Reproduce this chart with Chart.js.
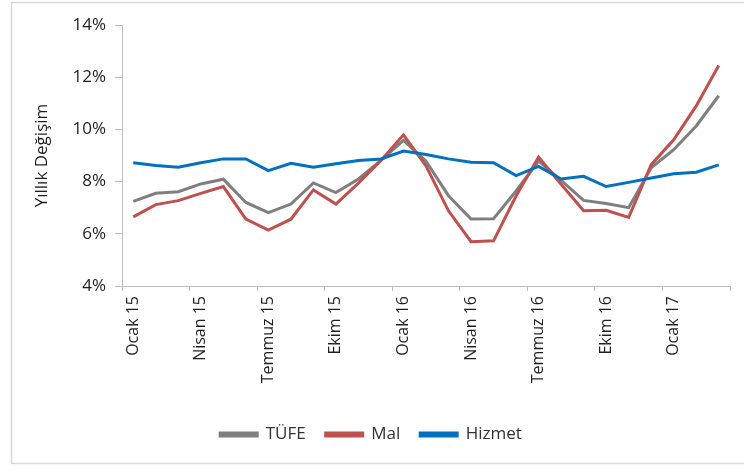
<!DOCTYPE html>
<html>
<head>
<meta charset="utf-8">
<script src="https://cdn.jsdelivr.net/npm/chart.js@4.4.0/dist/chart.umd.min.js"></script>
<style>
html,body{margin:0;padding:0;background:#fff;}
#wrap{position:relative;width:744px;height:466px;}
</style>
</head>
<body>
<div id="wrap"><canvas id="c" width="744" height="466"></canvas></div>
<script>
const categories = ['Ocak 15','Şubat 15','Mart 15','Nisan 15','Mayıs 15','Haziran 15','Temmuz 15','Ağustos 15','Eylül 15','Ekim 15','Kasım 15','Aralık 15',
  'Ocak 16','Şubat 16','Mart 16','Nisan 16','Mayıs 16','Haziran 16','Temmuz 16','Ağustos 16','Eylül 16','Ekim 16','Kasım 16','Aralık 16',
  'Ocak 17','Şubat 17','Mart 17'];
const tufe = [7.24,7.55,7.61,7.91,8.09,7.20,6.81,7.14,7.95,7.58,8.10,8.81,9.58,8.78,7.46,6.57,6.58,7.64,8.79,8.05,7.28,7.16,7.00,8.53,9.22,10.13,11.29];
const mal = [6.65,7.12,7.27,7.55,7.81,6.56,6.14,6.56,7.68,7.14,7.94,8.81,9.79,8.60,6.88,5.70,5.73,7.45,8.94,7.90,6.88,6.90,6.63,8.65,9.60,10.90,12.45];
const hizmet = [8.72,8.62,8.55,8.72,8.87,8.87,8.42,8.70,8.55,8.68,8.81,8.87,9.17,9.04,8.87,8.74,8.72,8.23,8.58,8.10,8.20,7.81,7.97,8.14,8.30,8.36,8.64];
const yTicks = [4,6,8,10,12,14];

const FONT = '"Open Sans", "Liberation Sans", sans-serif';
const borderPlugin = {
  id: 'frame',
  beforeDraw(chart){
    const ctx = chart.ctx;
    ctx.save();
    ctx.fillStyle = '#fff';
    ctx.fillRect(0,0,chart.width,chart.height);
    ctx.strokeStyle = '#d9d9d9';
    ctx.lineWidth = 1.5;
    ctx.strokeRect(11.5, 2.5, chart.width + 10, 461);
    ctx.restore();
  }
};

new Chart(document.getElementById('c'), {
  type: 'line',
  data: {
    labels: categories,
    datasets: [
      {label:'TÜFE', data: tufe, borderColor:'#7f7f7f', backgroundColor:'#7f7f7f', borderWidth:3, pointRadius:0, tension:0, order:2},
      {label:'Mal', data: mal, borderColor:'#c0504d', backgroundColor:'#c0504d', borderWidth:3, pointRadius:0, tension:0, order:1},
      {label:'Hizmet', data: hizmet, borderColor:'#0070c0', backgroundColor:'#0070c0', borderWidth:3, pointRadius:0, tension:0, order:0}
    ]
  },
  options: {
    responsive: false,
    animation: false,
    devicePixelRatio: 1,
    layout: {padding: {left: 12, right: 14, top: 25, bottom: 13}},
    plugins: {
      tooltip: {enabled:false},
      legend: {
        position: 'bottom',
        labels: {
          boxWidth: 37, boxHeight: 3, padding: 20,
          color: '#333333',
          font: {family: FONT, size: 17},
          sort: (a,b) => a.datasetIndex - b.datasetIndex
        }
      }
    },
    scales: {
      x: {
        offset: true,
        grid: {
          offset: true, drawOnChartArea: false, drawTicks: true, tickLength: 5,
          color: ctx => (ctx.index === undefined || ctx.index % 3 === 0) ? '#bfbfbf' : 'rgba(0,0,0,0)'
        },
        border: {color:'#bfbfbf', width:1},
        ticks: {
          autoSkip: false, minRotation: 90, maxRotation: 90, padding: 5,
          color: '#1f1f1f',
          font: {family: FONT, size: 16},
          callback: function(v, i){ return i % 3 === 0 ? categories[i] : ''; }
        },
        afterFit: s => { s.height = 120; }
      },
      y: {
        min: 4, max: 14,
        afterBuildTicks: s => { s.ticks = yTicks.map(v => ({value: v})); },
        grid: {drawOnChartArea: false, drawTicks: true, tickLength: 7, color: '#bfbfbf'},
        border: {color:'#bfbfbf', width:1},
        ticks: {
          padding: 9, color: '#1f1f1f',
          font: {family: FONT, size: 17},
          callback: v => v + '%'
        },
        title: {
          display: true, text: 'Yıllık Değişim', color: '#1f1f1f',
          font: {family: FONT, size: 17},
          padding: {top: 20, bottom: 0}
        },
        afterFit: s => { s.width = 110; }
      }
    }
  },
  plugins: [borderPlugin]
});
</script>
</body>
</html>
